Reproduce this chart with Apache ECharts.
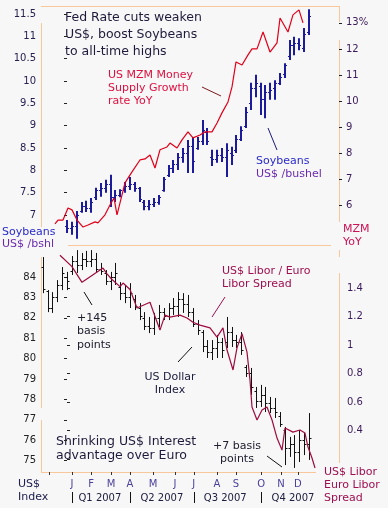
<!DOCTYPE html>
<html><head><meta charset="utf-8">
<script src="https://cdn.jsdelivr.net/npm/echarts@6/dist/echarts.min.js"></script>
<style>html,body{margin:0;padding:0;background:#f7f7f7;}#c{width:388px;height:508px;}</style>
</head><body><div id="c"></div>
<script>
// ---------- DATA (x = week index, week 1 ~ first week of Jan 2007) ----------
const soyFirstWeek = 0;
const soyOpen  = [6.75,6.70,6.75,7.10,7.20,7.15,7.40,7.55,7.60,7.70,7.40,7.45,7.55,7.65,7.70,7.60,7.30,7.20,7.25,7.30,7.55,7.90,8.05,8.15,8.30,8.40,8.55,8.50,8.65,8.85,8.30,8.25,8.35,8.30,8.40,8.45,8.70,9.00,9.50,9.85,9.90,9.60,9.75,9.85,9.95,10.15,10.55,10.80,10.85,10.75,11.10];
const soyHigh  = [6.89,6.85,7.09,7.29,7.32,7.38,7.61,7.72,7.79,7.90,7.56,7.58,7.74,7.85,7.74,7.63,7.34,7.34,7.38,7.45,7.85,8.12,8.23,8.39,8.50,8.68,8.75,8.75,9.13,8.95,8.46,8.46,8.50,8.61,8.53,8.79,8.99,9.42,9.96,10.14,9.96,9.91,9.96,10.02,10.18,10.40,10.92,10.99,10.96,11.19,11.61];
const soyLow   = [6.60,6.56,6.47,7.05,7.07,7.05,7.34,7.41,7.50,7.18,7.29,7.40,7.50,7.56,7.52,7.29,7.11,7.11,7.18,7.23,7.52,7.85,7.94,8.01,8.17,7.94,7.94,8.46,8.57,8.57,8.10,8.17,8.19,7.85,8.12,8.39,8.66,8.95,9.35,9.64,9.24,9.17,9.58,9.58,9.91,10.07,10.47,10.58,10.69,10.65,11.03];
const soyClose = [6.70,6.75,7.00,7.20,7.15,7.30,7.55,7.60,7.70,7.40,7.45,7.55,7.65,7.70,7.60,7.35,7.20,7.25,7.30,7.40,7.80,8.05,8.15,8.30,8.40,8.55,8.20,8.65,8.90,8.65,8.25,8.35,8.30,8.45,8.35,8.70,8.90,9.30,9.85,9.95,9.60,9.75,9.80,9.95,10.10,10.35,10.80,10.85,10.80,11.05,11.45];

const usdFirstWeek = -5;
const usdOpen  = [84.5,83.3,82.5,83.0,83.6,84.0,84.3,84.8,84.6,84.9,84.8,84.9,84.4,84.2,83.8,84.0,83.5,83.2,83.0,82.9,82.5,82.0,81.6,81.5,82.0,82.3,82.1,82.5,82.6,82.9,82.7,82.3,81.7,81.3,80.6,80.3,80.5,80.8,80.8,81.3,80.9,80.8,79.6,79.3,78.4,77.9,78.2,77.8,77.6,77.2,76.5,75.6,75.8,75.4,76.0,75.8];
const usdHigh  = [84.98,83.36,83.26,83.85,84.49,84.25,85.03,85.32,85.18,85.28,85.32,85.18,84.69,84.34,84.25,84.69,83.75,83.61,83.70,83.12,82.72,82.28,82.04,82.24,82.63,82.48,82.72,82.97,83.26,83.21,83.12,82.48,81.89,81.40,80.91,80.91,81.16,81.01,82.04,81.55,81.16,81.30,79.69,79.54,78.61,78.71,78.61,78.12,78.07,77.38,76.65,76.16,76.25,76.50,76.35,77.33];
const usdLow   = [83.21,82.28,82.24,82.77,83.36,83.36,84.10,84.20,84.34,84.49,84.49,84.20,84.10,83.61,83.36,83.61,82.87,82.72,82.48,82.38,81.89,81.40,81.25,81.16,81.55,81.89,81.89,82.14,82.04,82.24,82.04,81.55,81.16,80.32,80.03,79.93,80.03,80.03,80.52,80.57,80.52,80.18,79.10,78.22,77.58,77.63,77.38,77.33,77.09,76.65,74.78,75.18,74.64,74.93,75.27,75.03];
const usdClose = [83.4,82.5,83.0,83.6,84.2,83.8,84.8,84.6,84.9,84.8,84.9,84.4,84.3,83.8,84.0,84.2,83.2,83.0,83.2,82.6,82.1,81.6,81.5,82.0,82.3,82.1,82.5,82.6,82.9,82.7,82.3,81.7,81.4,80.6,80.3,80.5,80.8,80.4,81.3,80.9,80.8,80.4,79.3,78.6,77.9,78.2,77.8,77.6,77.4,76.8,75.6,75.8,75.4,76.0,75.8,76.1];

const mzmWeek  = [-2.48,-1.86,-0.83,0.21,1.03,2.07,3.31,4.34,5.79,6.40,7.85,8.88,9.71,10.33,10.95,11.98,13.43,15.08,16.12,17.15,18.18,19.21,20.66,21.28,22.73,23.76,25.0,26.03,27.48,28.51,29.96,31.0,32.02,33.26,34.09,34.92,36.16,37.4,38.22,39.26,40.5,41.94,43.39,44.01,45.66,46.69,47.93,48.76];
const mzmValue = [5.27,5.42,5.42,5.88,5.81,5.42,5.15,5.23,5.35,5.31,5.62,6.0,6.27,5.62,6.08,6.85,7.27,7.73,7.77,7.92,7.42,8.12,8.23,8.38,8.19,8.5,8.81,8.58,8.69,8.81,8.81,9.15,9.54,9.96,10.54,11.5,11.38,11.77,12.0,12.0,12.65,11.88,12.23,13.19,12.65,13.31,13.5,13.0];

const spreadWeek  = [-1.45,1.03,3.1,7.44,8.26,9.3,10.95,11.57,13.02,14.46,17.15,18.18,19.21,20.25,21.28,23.35,24.79,26.03,27.48,29.55,30.99,32.23,33.06,34.3,35.12,36.16,37.19,37.81,38.22,39.26,40.29,41.32,42.36,43.39,44.42,45.04,46.69,48.14,49.17,49.79,50.62,51.24];
const spreadValue = [1.63,1.55,1.44,1.54,1.50,1.46,1.41,1.435,1.39,1.26,1.30,1.20,1.105,1.21,1.196,1.21,1.19,1.16,1.14,1.12,1.056,1.12,0.965,0.825,0.98,1.08,0.95,0.754,0.565,0.474,0.544,0.565,0.474,0.347,0.263,0.418,0.389,0.404,0.382,0.284,0.207,0.137];

// tick labels
const soyTicks = [7,7.5,8,8.5,9,9.5,10,10.5,11,11.5];
const soyTickLabels = ['7','7.5','8','8.5','9','9.5','10','10.5','11','11.5'];
const mzmTicks = [6,7,8,9,10,11,12,13];
const mzmTickLabels = ['6','7','8','9','10','11','12','13%'];
const usdTicks = [75,76,77,78,79,80,81,82,83,84];
const usdTickLabels = ['75','76','77','78','79','80','81','82','83','84'];
const spreadTicks = [0.2,0.4,0.6,0.8,1.0,1.2,1.4];
const spreadTickLabels = ['','0.4','0.6','0.8','1','1.2','1.4'];
const monthTickPos = [-3.7,1.03,4.96,9.09,13.0,17.77,22.3,26.2,31.0,34.9,40.1,44.2,47.7];
const monthLabelPos = [1.03,4.96,9.09,13.0,17.77,22.3,26.2,31.0,34.9,40.1,44.2,47.7];
const monthLabels = ['J','F','M','A','M','J','J','A','S','O','N','D'];
const quarterSepPos = [1.03,13.0,26.2,40.1];
const quarterLabelPos = [6.8,19.6,32.7,46.7];
const quarterLabels = ['Q1 2007','Q2 2007','Q3 2007','Q4 2007'];

// ---------- CHART ----------
const FONT = '"DejaVu Sans", Verdana, sans-serif';
const AX = '#f8c89a';
const XMIN = -5.372, XMAX = 56.198;
function pick(vals, labels){
  return function(v){
    let best = 0, bd = Infinity;
    for (let k=0;k<vals.length;k++){ const d=Math.abs(vals[k]-v); if(d<bd){bd=d;best=k;} }
    return labels[best];
  };
}
function ohlc(color, lw, tick){
  return function(params, api){
    const x = api.value(0);
    const o = api.coord([x, api.value(1)]);
    const h = api.coord([x, api.value(2)]);
    const l = api.coord([x, api.value(3)]);
    const c = api.coord([x, api.value(4)]);
    const px = Math.round(h[0]) + (lw % 2 ? 0.5 : 0);
    const st = {stroke: color, lineWidth: lw};
    return {type:'group', children:[
      {type:'line', shape:{x1:px,y1:h[1],x2:px,y2:l[1]}, style:st},
      {type:'line', shape:{x1:px-tick,y1:Math.round(o[1])+0.5,x2:px,y2:Math.round(o[1])+0.5}, style:{stroke:color,lineWidth:1}},
      {type:'line', shape:{x1:px,y1:Math.round(c[1])+0.5,x2:px+tick,y2:Math.round(c[1])+0.5}, style:{stroke:color,lineWidth:1}}
    ]};
  };
}
const soyData = soyHigh.map((h,k)=>[soyFirstWeek+k, soyOpen[k], h, soyLow[k], soyClose[k]]);
const usdData = usdHigh.map((h,k)=>[usdFirstWeek+k, usdOpen[k], h, usdLow[k], usdClose[k]]);
const mzmData = mzmWeek.map((w,k)=>[w, mzmValue[k]]);
const spreadData = spreadWeek.map((w,k)=>[w, spreadValue[k]]);

function yAx(grid, pos, min, max, ticks, labels, margin, color){
  return {gridIndex:grid, type:'value', position:pos, min:min, max:max,
    axisLine:{show:false}, splitLine:{show:false},
    axisTick:{show:true, customValues:ticks, length:3, lineStyle:{color:'#222', width:1}},
    axisLabel:{customValues:ticks, formatter:pick(ticks, labels), margin:margin, fontSize:10, fontFamily:FONT, color:color}};
}

const chart = echarts.init(document.getElementById('c'), null, {renderer:'canvas'});
function line(x1,y1,x2,y2,c){ return {type:'line', silent:true, shape:{x1,y1,x2,y2}, style:{stroke:c||AX, lineWidth:1}}; }
function txt(x,y,t,c,size,lh,align){ return {type:'text', silent:true, x:x, y:y, style:{text:t, fill:c, font: size+'px '+FONT, lineHeight:lh, verticalAlign:'top', align:align||'left'}}; }

chart.setOption({
  animation:false,
  backgroundColor:'#f7f7f7',
  grid:[
    {left:41, right:49, top:6, height:239},
    {left:41, right:49, top:245, height:227}
  ],
  xAxis:[
    {gridIndex:0, type:'value', min:XMIN, max:XMAX, show:false},
    {gridIndex:1, type:'value', min:XMIN, max:XMAX, position:'bottom',
      axisLine:{show:false}, splitLine:{show:false},
      axisTick:{show:true, customValues:monthTickPos, length:3, lineStyle:{color:'#333'}},
      axisLabel:{customValues:monthLabelPos, formatter:pick(monthLabelPos, monthLabels), margin:7, fontSize:10, fontFamily:FONT, color:'#4a3f9a'}},
    {gridIndex:1, type:'value', min:XMIN, max:XMAX, position:'bottom', offset:20,
      axisLine:{show:false}, splitLine:{show:false},
      axisTick:{show:true, customValues:quarterSepPos, length:11, lineStyle:{color:'#111'}},
      axisLabel:{customValues:quarterLabelPos, formatter:pick(quarterLabelPos, quarterLabels), margin:1, fontSize:10, fontFamily:FONT, color:'#202040'}}
  ],
  yAxis:[
    yAx(0,'left',6.33,11.68,soyTicks,soyTickLabels,5,'#2a2050'),
    yAx(0,'right',4.46,13.65,mzmTicks,mzmTickLabels,7,'#3a1a5a'),
    yAx(1,'left',74.44,85.57,usdTicks,usdTickLabels,5,'#222'),
    yAx(1,'right',0.109,1.702,spreadTicks,spreadTickLabels,8,'#3a1a5a')
  ],
  series:[
    {type:'custom', xAxisIndex:0, yAxisIndex:0, renderItem:ohlc('#1b1b9c',2,2), encode:{x:0,y:[1,2,3,4]}, data:soyData, z:2},
    {type:'line', xAxisIndex:0, yAxisIndex:1, data:mzmData, symbol:'none', lineStyle:{color:'#e0001a', width:1.2}, z:3},
    {type:'custom', xAxisIndex:1, yAxisIndex:2, renderItem:ohlc('#111111',1,2), encode:{x:0,y:[1,2,3,4]}, data:usdData, z:2},
    {type:'line', xAxisIndex:1, yAxisIndex:3, data:spreadData, symbol:'none', lineStyle:{color:'#9e0b3f', width:1.2}, z:3}
  ],
  graphic:[
    // frame lines
    line(41,6.5,339,6.5), line(41.5,23,41.5,227), line(339.5,6,339.5,22), line(339.5,40,339.5,222),
    line(68,245.5,331,245.5),
    line(339.5,250,339.5,257), line(339.5,273,339.5,463),
    line(41.5,257,41.5,408), line(41.5,420,41.5,472),
    line(41,472.5,316,472.5),
    // annotations
    txt(65,9,'Fed Rate cuts weaken\nUS$, boost Soybeans\nto all-time highs','#1e1a3a',12.5,17),
    txt(108,69,'US MZM Money\nSupply Growth\nrate YoY','#dd1040',11,13),
    line(202,87,221,96,'#7a1a1a'),
    txt(256,155,'Soybeans','#2a2acc',11,13),
    txt(256,168,'US$ /bushel','#6a2ab0',11,13),
    line(268,128,277,150,'#1a1a80'),
    txt(2,226,'Soybeans','#2a2acc',11,12),
    txt(2,238,'US$ /bshl','#6a2ab0',11,12),
    txt(343,223,'MZM\nYoY','#cc1155',11,13),
    txt(222,265,'US$ Libor / Euro\nLibor Spread','#a01050',11,12.5),
    line(225,297,212,317,'#a01050'),
    txt(77,311,'+145\nbasis\npoints','#202030',11,13.5),
    line(84,292,92,305,'#111'),
    txt(170,371,'US Dollar\nIndex','#202040',11,12.5,'center'),
    line(178,362,192,347,'#111'),
    txt(56,435,'Shrinking US$ Interest\nadvantage over Euro','#1e1a3a',12.5,14),
    txt(237,440,'+7 basis\npoints','#202030',11,12.5,'center'),
    line(267,456,282,467,'#111'),
    txt(324,466,'US$ Libor\nEuro Libor\nSpread','#a01050',11,13),
    txt(18,477,'US$\nIndex','#202050',11,13.5)
  ]
});
</script></body></html>
